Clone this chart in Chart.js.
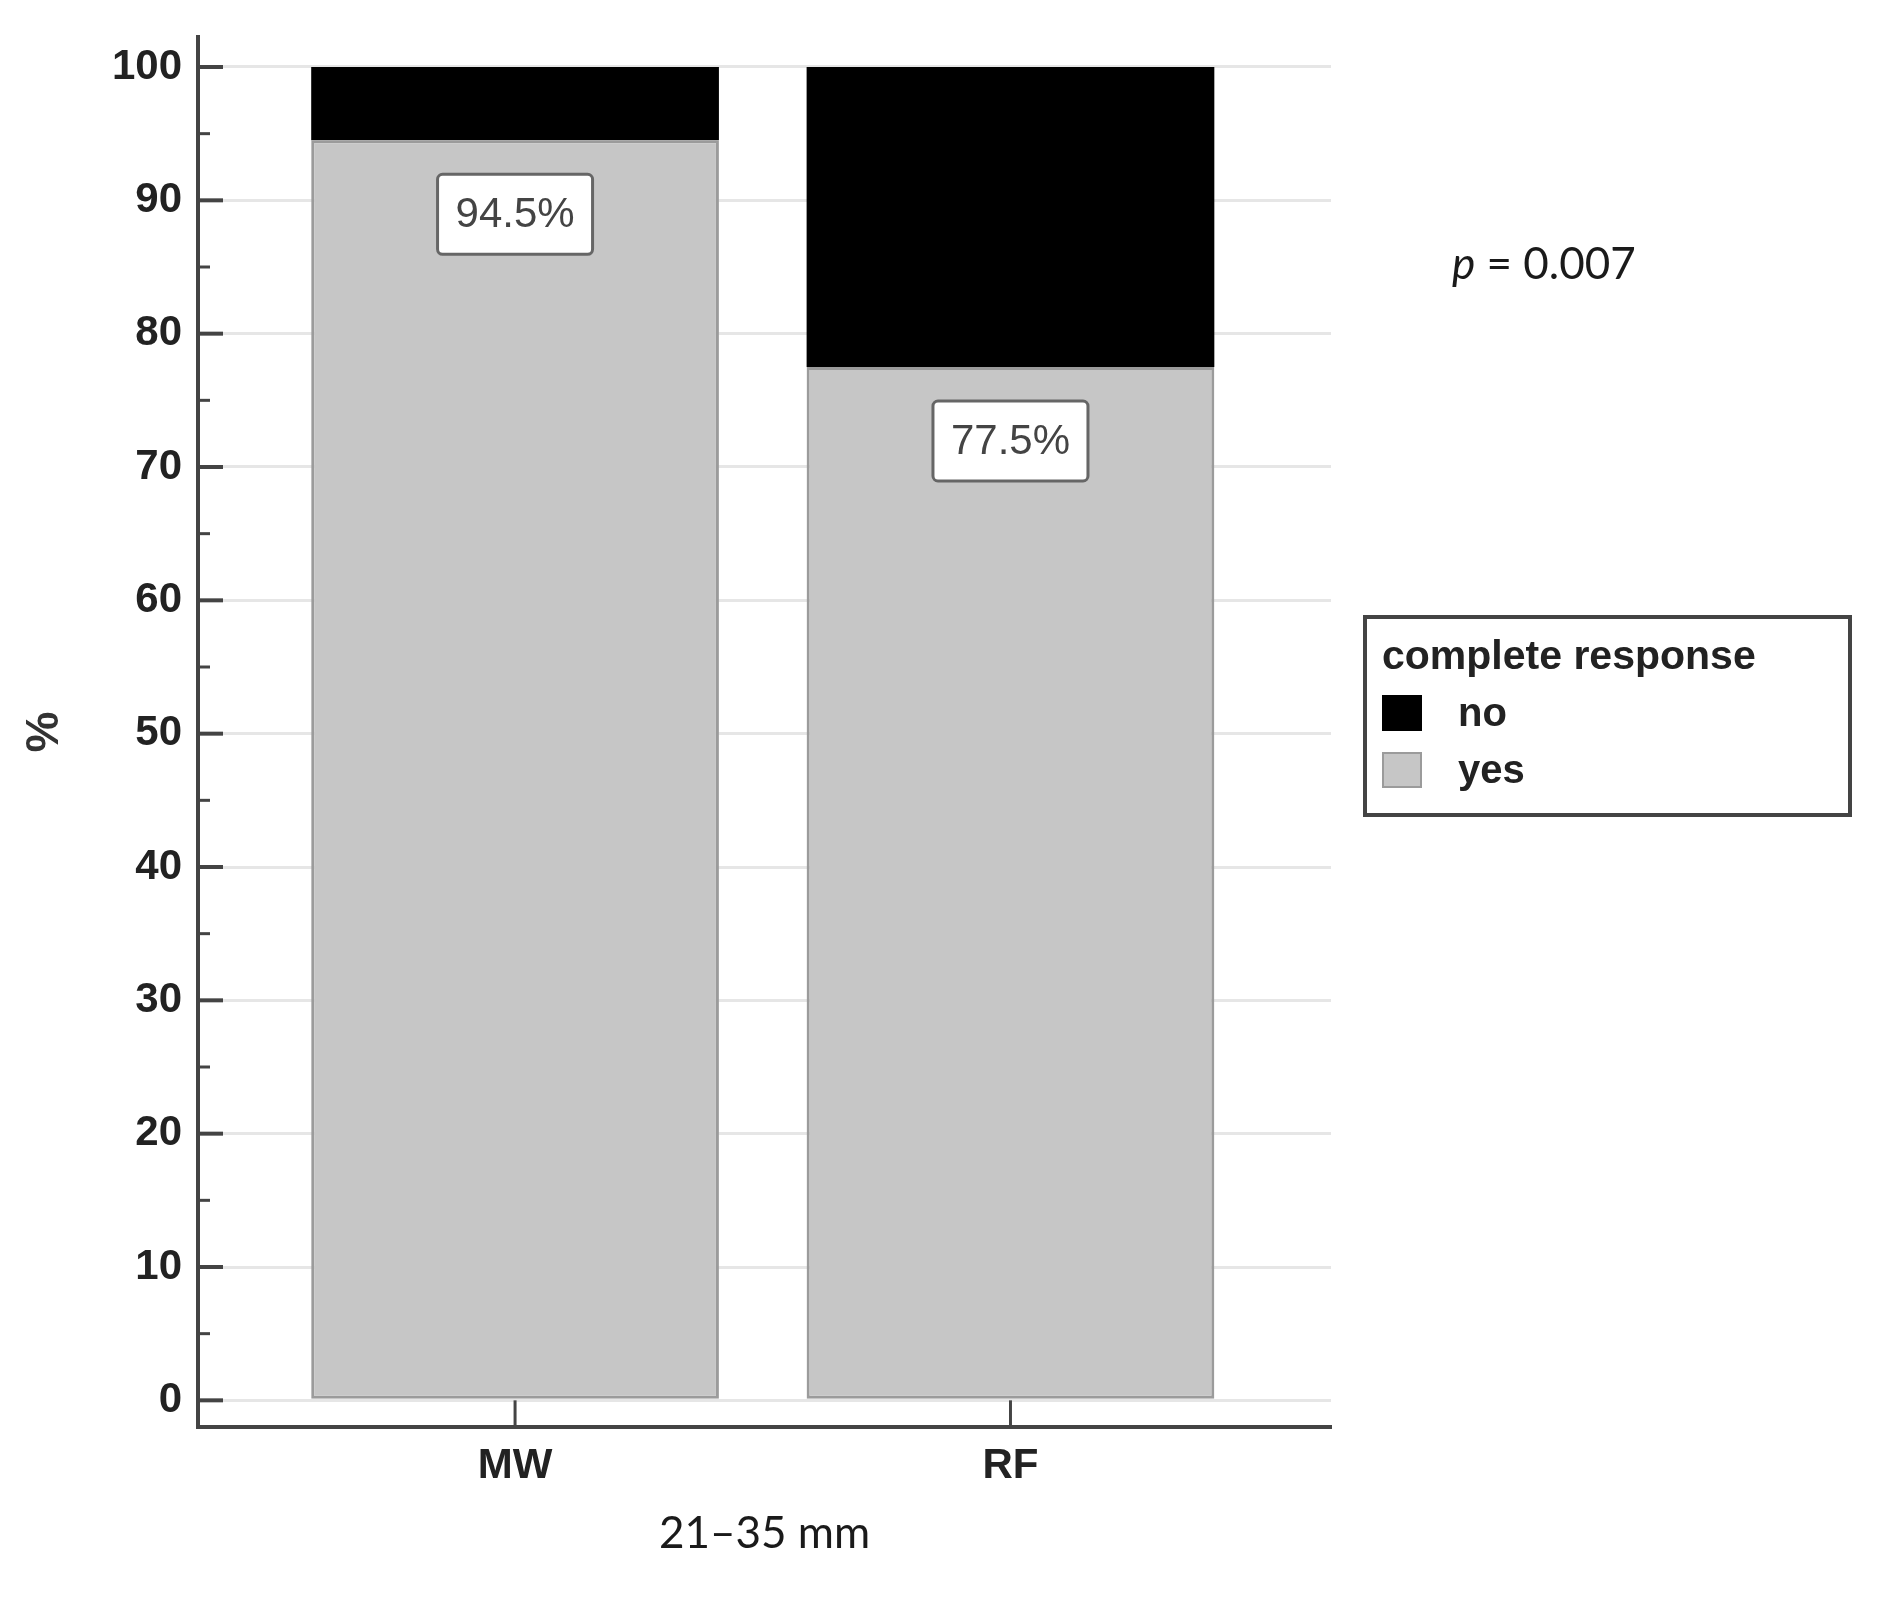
<!DOCTYPE html>
<html>
<head>
<meta charset="utf-8">
<script src="https://cdn.jsdelivr.net/npm/chart.js@4.4.1/dist/chart.umd.min.js"></script>
<style>
    body { margin: 0; background: #fff; }
    #wrap { position: relative; width: 1885px; height: 1600px; }
    #chart { position: absolute; left: 0; top: 0; }
    #pValue {
        position: absolute; left: 1452px; top: 237px;
        font: 44px/50px Lato, sans-serif; color: #1a1a1a; white-space: nowrap;
    }
    #legend {
        position: absolute; left: 1363px; top: 615px; width: 489px; height: 202px;
        box-sizing: border-box; border: 4px solid #444; padding: 8px 0 0 15px;
        font: bold 40px/57px "Liberation Sans", sans-serif; color: #222;
    }
    #legend .title { font-size: 41px; white-space: nowrap; }
    #legend .row { display: flex; align-items: center; height: 57px; }
    #legend .sw { width: 40px; height: 36px; box-sizing: border-box; margin-right: 36px; }
</style>
</head>
<body>
<div id="wrap">
    <canvas id="chart" width="1885" height="1600"></canvas>
    <div id="pValue"><i>p</i> = 0.007</div>
    <div id="legend"></div>
</div>

<script>
// ===== DATA =====
const categories = ["MW", "RF"];
const yesValues = [94.5, 77.5];
const noValues = [5.5, 22.5];
const yTickValues = [0, 10, 20, 30, 40, 50, 60, 70, 80, 90, 100];
const yMinorTicks = [5, 15, 25, 35, 45, 55, 65, 75, 85, 95];
const legendTitle = "complete response";
const xTitle = "21–35 mm";

Chart.defaults.font.family = "'Liberation Sans', Arial, sans-serif";

// ===== PLUGINS =====
// ticks of this chart point inward, minor ones shorter
const innerTicks = {
    id: "innerTicks",
    afterDraw(chart) {
        const { ctx, chartArea, scales: { x, y } } = chart;
        ctx.save();
        ctx.strokeStyle = "#444";

        const line = (x1, y1, x2, y2) => {
            ctx.beginPath();
            ctx.moveTo(x1, y1);
            ctx.lineTo(x2, y2);
            ctx.stroke();
        };

        ctx.lineWidth = 4;
        yTickValues.forEach(v => {
            const py = y.getPixelForValue(v);
            line(chartArea.left, py, chartArea.left + 25, py);
        });

        ctx.lineWidth = 3;
        yMinorTicks.forEach(v => {
            const py = y.getPixelForValue(v);
            line(chartArea.left, py, chartArea.left + 12, py);
        });

        categories.forEach((c, i) => {
            const px = x.getPixelForValue(i);
            line(px, chartArea.bottom, px, y.getPixelForValue(0));
        });
        ctx.restore();
    }
};

// boxed percentage inside the "yes" segment
const boxLabels = {
    id: "boxLabels",
    afterDatasetsDraw(chart) {
        const { ctx } = chart;
        const meta = chart.getDatasetMeta(0);
        ctx.save();
        meta.data.forEach((bar, i) => {
            const text = yesValues[i].toFixed(1) + "%";
            const w = 155, h = 80;
            const left = bar.x - w / 2;
            const top = bar.y + 34;

            ctx.beginPath();
            ctx.roundRect(left, top, w, h, 5);
            ctx.fillStyle = "#fff";
            ctx.fill();
            ctx.lineWidth = 3;
            ctx.strokeStyle = "#666";
            ctx.stroke();

            ctx.fillStyle = "#444";
            ctx.font = "42px 'Liberation Sans', Arial, sans-serif";
            ctx.textAlign = "center";
            ctx.textBaseline = "middle";
            ctx.fillText(text, bar.x, top + h / 2 + 1);
        });
        ctx.restore();
    }
};

// html legend built from the chart's own legend items
const htmlLegend = {
    id: "htmlLegend",
    afterUpdate(chart) {
        const box = document.getElementById("legend");
        const items = Chart.defaults.plugins.legend.labels.generateLabels(chart).reverse();
        box.innerHTML = "";

        const title = document.createElement("div");
        title.className = "title";
        title.textContent = legendTitle;
        box.appendChild(title);

        items.forEach(item => {
            const row = document.createElement("div");
            row.className = "row";
            const sw = document.createElement("span");
            sw.className = "sw";
            sw.style.background = item.fillStyle;
            if (item.lineWidth) {
                sw.style.border = "2px solid " + item.strokeStyle;
            }
            const label = document.createElement("span");
            label.textContent = item.text;
            row.appendChild(sw);
            row.appendChild(label);
            box.appendChild(row);
        });
    }
};

// ===== CHART =====
const chart = new Chart(document.getElementById("chart"), {
    type: "bar",
    data: {
        datasets: [{
            label: "yes",
            data: categories.map((c, i) => ({ x: i, y: yesValues[i] })),
            backgroundColor: "#c6c6c6",
            borderColor: "#9b9b9b",
            borderWidth: 3,
            borderSkipped: false,
            barPercentage: 0.823,
            categoryPercentage: 1
        }, {
            label: "no",
            data: categories.map((c, i) => ({ x: i, y: noValues[i] })),
            backgroundColor: "#000",
            borderColor: "#000",
            borderWidth: 0,
            barPercentage: 0.823,
            categoryPercentage: 1
        }]
    },
    options: {
        responsive: false,
        animation: false,
        layout: { padding: { top: 37, right: 554, bottom: 0, left: 0 } },
        plugins: {
            legend: { display: false },
            tooltip: { enabled: false }
        },
        scales: {
            x: {
                type: "linear",
                stacked: true,
                offset: false,
                min: -0.64,
                max: 1.647,
                afterBuildTicks: s => { s.ticks = categories.map((c, i) => ({ value: i })); },
                afterFit: s => { s.height = 173; s.paddingLeft = 0; s.paddingRight = 0; },
                border: { color: "#444", width: 4 },
                grid: { display: false, drawTicks: false },
                ticks: {
                    padding: 14,
                    color: "#222",
                    font: { size: 42, weight: "bold" },
                    callback: v => categories[v] ?? ""
                },
                title: {
                    display: true,
                    text: xTitle,
                    color: "#1a1a1a",
                    font: { family: "Lato, sans-serif", size: 44 },
                    padding: { top: 0, bottom: 40 }
                }
            },
            y: {
                type: "linear",
                stacked: true,
                min: -2,
                max: 102.25,
                afterBuildTicks: s => { s.ticks = yTickValues.map(v => ({ value: v })); },
                afterFit: s => { s.width = 198; s.paddingTop = 0; s.paddingBottom = 0; },
                border: { color: "#444", width: 4 },
                grid: { color: "#e6e6e6", lineWidth: 3, drawTicks: false },
                ticks: {
                    padding: 16,
                    color: "#222",
                    font: { size: 42, weight: "bold" }
                },
                title: {
                    display: true,
                    text: "%",
                    color: "#333",
                    font: { size: 46, weight: "bold" },
                    padding: { top: 18, bottom: 0 }
                }
            }
        }
    },
    plugins: [innerTicks, boxLabels, htmlLegend]
});
</script>
</body>
</html>
